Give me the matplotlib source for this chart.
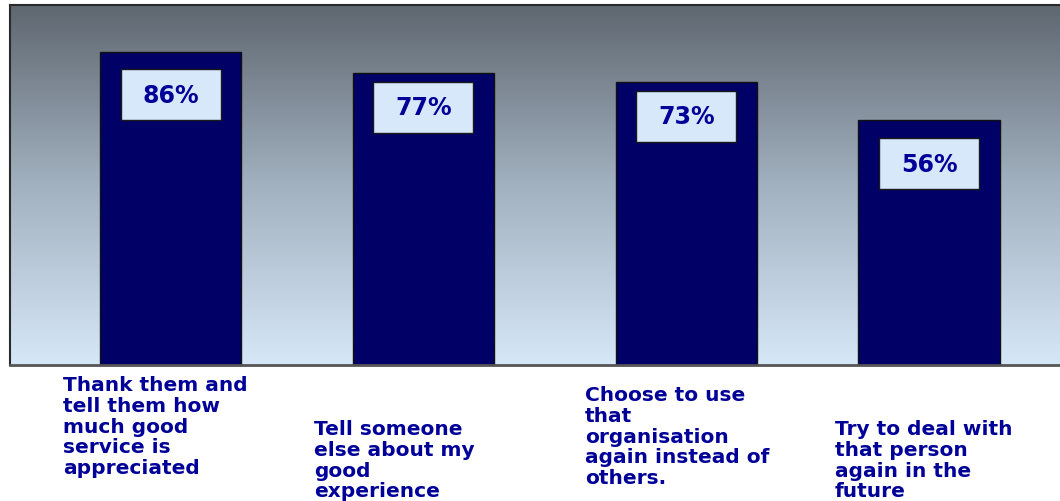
import matplotlib.pyplot as plt
import numpy as np
from matplotlib.patches import Rectangle
from matplotlib.colors import LinearSegmentedColormap
from matplotlib.transforms import ScaledTranslation

# data
categories = [
    "Thank them and\ntell them how\nmuch good\nservice is\nappreciated",
    "Tell someone\nelse about my\ngood\nexperience",
    "Choose to use\nthat\norganisation\nagain instead of\nothers.",
    "Try to deal with\nthat person\nagain in the\nfuture",
]
values = [86, 77, 73, 56]
value_labels = ["86%", "77%", "73%", "56%"]

# layout (pixels of a 1060x502 canvas)
slots = [0, 1, 2.04, 3]
box_drop = [17, 9, 9, 18]          # px from bar top to value box
label_pos = [(63, 376), (314, 420), (585, 386), (835, 420)]
y_low, y_high = -52.6, 107         # the axis does not start at zero

navy = "#000066"
text_blue = "#000099"

fig = plt.figure(figsize=(10.6, 5.02), dpi=100)
ax = fig.add_axes([10 / 1060, 1 - 366 / 502, 1.01 - 10 / 1060, 360 / 502])

# gradient backdrop
cmap = LinearSegmentedColormap.from_list(
    "bg", [(0, "#D6E7F7"), (0.5, "#A2B1C0"), (1, "#5F6770")])
grad = np.linspace(0, 1, 256).reshape(-1, 1)
ax.imshow(grad, cmap=cmap, aspect="auto", extent=[0, 1, 0, 1],
          transform=ax.transAxes, origin="lower", zorder=0)

heights = [v - y_low for v in values]
ax.bar(slots, heights, bottom=y_low, width=0.56, color=navy,
       edgecolor="#111111", linewidth=1, zorder=2)

ax.set_xlim(-0.635, 3.56)
ax.set_ylim(y_low, y_high)
ax.set_xticks([])
ax.set_yticks([])
for side in ["left", "top"]:
    ax.spines[side].set_color("#2a2a2a")
    ax.spines[side].set_linewidth(1.5)
ax.spines["bottom"].set_color("#555555")
ax.spines["bottom"].set_linewidth(2)
ax.spines["right"].set_visible(False)

# value boxes, 100x51 px, hanging below each bar top
for x, v, lab, drop in zip(slots, values, value_labels, box_drop):
    tr = fig.dpi_scale_trans + ScaledTranslation(x, v, ax.transData)
    ax.add_patch(Rectangle((-0.5, -(drop + 51) / 100), 1.0, 0.51,
                           transform=tr, facecolor="#D6E8FA",
                           edgecolor="#1a1a1a", linewidth=1, zorder=3))
    ax.annotate(lab, (x, v), xytext=(0, -(drop + 25.5) * 0.72),
                textcoords="offset points", ha="center", va="center",
                fontsize=17, fontweight="bold", color=text_blue, zorder=4)

for (px, py), cat in zip(label_pos, categories):
    fig.text(px / 1060, 1 - py / 502, cat, ha="left", va="top",
             fontsize=14.5, fontweight="bold", color=text_blue,
             linespacing=1.12)

fig.savefig("out.png", dpi=100)
